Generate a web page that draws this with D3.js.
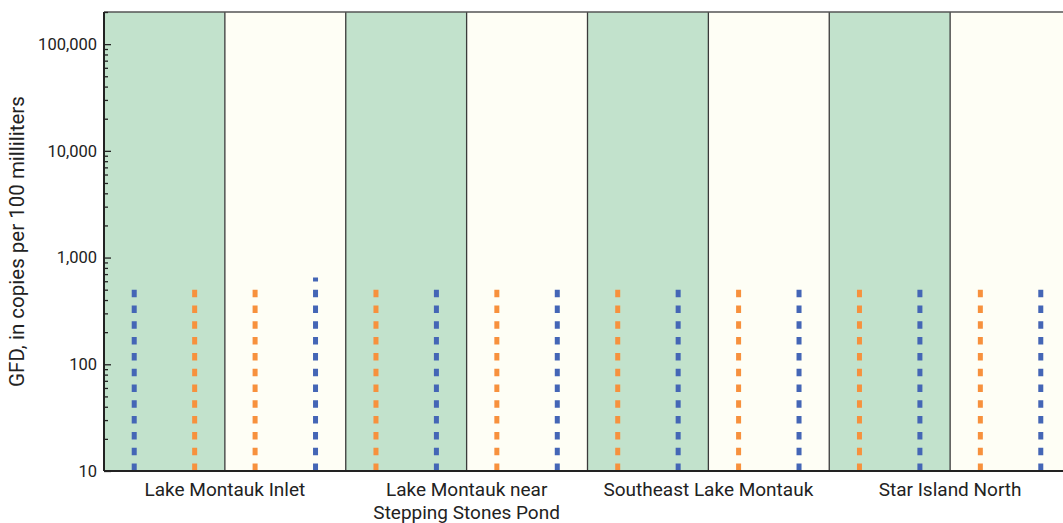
<!DOCTYPE html>
<html><head><meta charset="utf-8">
<script src="https://cdn.jsdelivr.net/npm/d3@7"></script>
<style>
body{margin:0;background:#fff;}
svg{display:block;font-family:"Roboto",sans-serif;}
</style></head>
<body><svg id="chart" width="1063" height="523"></svg>
<script>
// ---- data ----
const sites = ["Lake Montauk Inlet", "Lake Montauk near|Stepping Stones Pond", "Southeast Lake Montauk", "Star Island North"];
const periods = ["Period 1", "Period 2"];
const periodFill = ["#c2e2cc", "#fefef5"];
const seriesNames = ["Blue marker", "Orange marker"];
const seriesColor = ["#4466b6", "#f7913d"];
// one entry per site x period panel (8 panels), left to right
const blueValues   = [500, 650, 500, 500, 500, 500, 500, 500];
const blueSlot     = [0, 1, 1, 1, 1, 1, 1, 1];
const orangeValues = [500, 500, 500, 500, 500, 500, 500, 500];
const orangeSlot   = [1, 0, 0, 0, 0, 0, 0, 0];
const yTicks = [10, 100, 1000, 10000, 100000];

// ---- layout ----
const svg = d3.select("#chart");
const m = {left: 104, top: 12, right: 1071, bottom: 471};

const x0 = d3.scaleBand().domain(sites).range([m.left, m.right]).padding(0);
const x1 = d3.scaleBand().domain(periods).range([0, x0.bandwidth()]).padding(0);
const x2 = d3.scaleBand().domain([0, 1]).range([0, x1.bandwidth()]).padding(0);
const y = d3.scaleLog().domain([10, 200000]).range([m.bottom, m.top]);

// panels
const panels = [];
sites.forEach((s, i) => periods.forEach((p, j) => panels.push({site: s, period: p, pi: j, idx: i * 2 + j})));

svg.append("g").selectAll("rect").data(panels).join("rect")
  .attr("x", d => x0(d.site) + x1(d.period))
  .attr("y", m.top)
  .attr("width", x1.bandwidth())
  .attr("height", m.bottom - m.top)
  .attr("fill", d => periodFill[d.pi]);

// marks
const marks = [];
panels.forEach(p => {
  marks.push({p, series: 0, slot: blueSlot[p.idx], value: blueValues[p.idx]});
  marks.push({p, series: 1, slot: orangeSlot[p.idx], value: orangeValues[p.idx]});
});
svg.append("g").selectAll("line").data(marks).join("line")
  .attr("x1", d => x0(d.p.site) + x1(d.p.period) + x2(d.slot) + x2.bandwidth() / 2)
  .attr("x2", d => x0(d.p.site) + x1(d.p.period) + x2(d.slot) + x2.bandwidth() / 2)
  .attr("y1", y(10))
  .attr("y2", d => y(d.value))
  .attr("stroke", d => seriesColor[d.series])
  .attr("stroke-width", 5)
  .attr("stroke-dasharray", "7.5,8.3");

// panel borders
svg.append("g").selectAll("line").data(panels.slice(1)).join("line")
  .attr("x1", d => x0(d.site) + x1(d.period))
  .attr("x2", d => x0(d.site) + x1(d.period))
  .attr("y1", m.top).attr("y2", m.bottom)
  .attr("stroke", "#3a3a3a").attr("stroke-width", 1.3);
svg.append("line").attr("x1", m.left).attr("x2", m.right).attr("y1", m.top).attr("y2", m.top)
  .attr("stroke", "#555").attr("stroke-width", 1.5);
svg.append("line").attr("x1", m.left).attr("x2", m.right).attr("y1", m.bottom).attr("y2", m.bottom)
  .attr("stroke", "#222").attr("stroke-width", 2);
svg.append("line").attr("x1", m.left).attr("x2", m.left).attr("y1", m.top).attr("y2", m.bottom)
  .attr("stroke", "#222").attr("stroke-width", 2);

// y axis
const minor = [];
for (let e = 1; e <= 5; e++) for (let k = 2; k <= 9; k++) { const v = k * Math.pow(10, e); if (v <= 200000) minor.push(v); }
const gMinor = svg.append("g").attr("transform", `translate(${m.left},0)`)
  .call(d3.axisLeft(y).tickValues(minor).tickSize(-4).tickFormat(""));
const gMajor = svg.append("g").attr("transform", `translate(${m.left},0)`)
  .call(d3.axisLeft(y).tickValues(yTicks).tickSize(-7).tickPadding(7).tickFormat(d3.format(",")));
[gMinor, gMajor].forEach(g => {
  g.select(".domain").remove();
  g.selectAll(".tick line").attr("stroke", "#222").attr("stroke-width", 1.3);
});
gMajor.selectAll(".tick text").attr("font-size", 16.5).attr("fill", "#222")
  .attr("font-family", "Roboto,sans-serif");

svg.append("text")
  .attr("transform", `translate(24,${(m.top + m.bottom) / 2}) rotate(-90)`)
  .attr("text-anchor", "middle")
  .attr("font-size", 20.5).attr("fill", "#222")
  .text("GFD, in copies per 100 milliliters");

// x category labels
const lab = svg.append("g").selectAll("text").data(sites).join("text")
  .attr("x", d => x0(d) + x0.bandwidth() / 2)
  .attr("y", 496)
  .attr("text-anchor", "middle")
  .attr("font-size", 19).attr("fill", "#222");
lab.each(function(d) {
  const parts = d.split("|");
  d3.select(this).selectAll("tspan").data(parts).join("tspan")
    .attr("x", x0(d) + x0.bandwidth() / 2)
    .attr("dy", (p, i) => i === 0 ? 0 : 23)
    .text(p => p);
});
</script></body></html>
